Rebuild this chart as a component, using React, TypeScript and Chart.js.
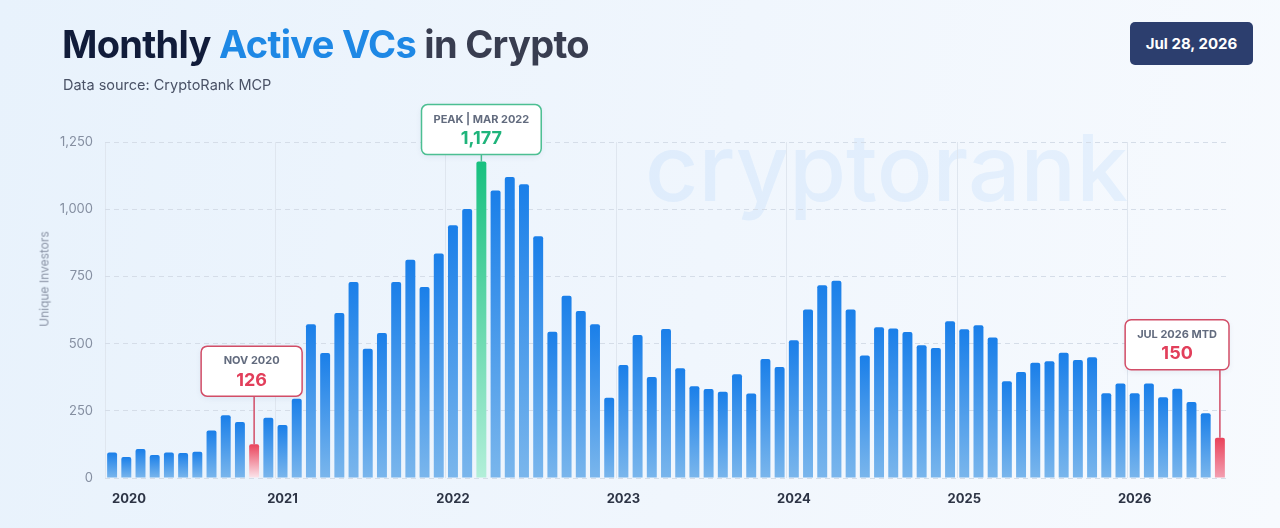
import React, { useEffect, useRef } from "react";
import { Chart, registerables } from "chart.js";

Chart.register(...registerables);

// ---------- DATA ----------
const MONTHS = ["Jan", "Feb", "Mar", "Apr", "May", "Jun", "Jul", "Aug", "Sep", "Oct", "Nov", "Dec"];
const YEARS = ["2020", "2021", "2022", "2023", "2024", "2025", "2026"];

const values2020 = [95, 78, 108, 86, 95, 93, 98, 177, 233, 208, 126, 224];
const values2021 = [197, 295, 572, 465, 614, 729, 481, 539, 729, 812, 711, 835];
const values2022 = [940, 1001, 1177, 1070, 1120, 1093, 899, 544, 678, 621, 572, 299];
const values2023 = [420, 532, 376, 554, 408, 341, 331, 321, 386, 314, 443, 413];
const values2024 = [512, 627, 717, 734, 627, 456, 561, 556, 543, 494, 484, 583];
const values2025 = [553, 568, 523, 360, 394, 429, 434, 466, 439, 449, 315, 352];
const values2026 = [315, 352, 300, 332, 283, 241, 150];

const SERIES_BY_YEAR = [values2020, values2021, values2022, values2023, values2024, values2025, values2026];
const CATEGORIES = SERIES_BY_YEAR.flatMap((arr, yi) => arr.map((_, mi) => `${MONTHS[mi]} ${YEARS[yi]}`));
const VALUES = SERIES_BY_YEAR.flat();

const Y_MAX = 1250;
const Y_STEP = 250;

// highlighted bars
const HIGHLIGHT_INDEX = [10, 26, 78];
const HIGHLIGHT_LABELS = ["NOV 2020", "PEAK | MAR 2022", "JUL 2026 MTD"];
const HIGHLIGHT_KIND = ["low", "peak", "low"];

// ---------- STYLE ----------
const FONT = "Inter, 'Noto Sans', sans-serif";
const KIND_STYLE: Record<string, { border: string; value: string; top: string }> = {
  low: { border: "#d24d67", value: "#e23f5b", top: "#e9425a" },
  peak: { border: "#4cbf92", value: "#1fb47b", top: "#17c07f" },
};
const HL_BAR_BOTTOM = ["#fbe6ec", "#b2efd9", "#f3a0b2"];
const HL_GAP = [48, 7, 68];
const HL_DX = [-2.5, 0, 0];

const watermarkPlugin = {
  id: "watermark",
  beforeDraw(chart: any) {
    const c = chart.ctx;
    c.save();
    const text = "cryptorank";
    let size = 84;
    c.font = `500 ${size}px ${FONT}`;
    const w = c.measureText(text).width;
    size = size * (483 / w);
    c.font = `500 ${size}px ${FONT}`;
    c.fillStyle = "rgba(70,160,240,0.09)";
    c.textBaseline = "alphabetic";
    c.textAlign = "left";
    c.fillText(text, 645, 201);
    c.restore();
  },
};

const annotationPlugin = {
  id: "highlightBoxes",
  afterDatasetsDraw(chart: any) {
    const c = chart.ctx;
    const area = chart.chartArea;
    const xs = chart.scales.x;
    const ys = chart.scales.y;
    HIGHLIGHT_INDEX.forEach((idx, k) => {
      const st = KIND_STYLE[HIGHLIGHT_KIND[k]];
      const x = xs.getPixelForValue(idx);
      const yTop = ys.getPixelForValue(VALUES[idx]);
      const label = HIGHLIGHT_LABELS[k];
      const valueText = VALUES[idx].toLocaleString("en-US");
      c.save();
      c.font = `700 11px ${FONT}`;
      const lw = c.measureText(label).width;
      const w = Math.max(101, lw + 24);
      const h = 50;
      let left = x - w / 2 + HL_DX[k];
      left = Math.min(left, area.right + 2 - w);
      const bottom = yTop - HL_GAP[k];
      const top = bottom - h;
      // connector
      c.strokeStyle = st.border;
      c.lineWidth = 1.5;
      c.beginPath();
      c.moveTo(x, bottom);
      c.lineTo(x, yTop);
      c.stroke();
      // box
      c.shadowColor = "rgba(30,60,110,0.08)";
      c.shadowBlur = 6;
      c.shadowOffsetY = 2;
      c.beginPath();
      c.roundRect(left, top, w, h, 6);
      c.fillStyle = "#ffffff";
      c.fill();
      c.shadowColor = "transparent";
      c.lineWidth = 1.5;
      c.strokeStyle = st.border;
      c.stroke();
      // texts
      c.textAlign = "center";
      c.textBaseline = "middle";
      c.fillStyle = "#626b7e";
      c.font = `700 11px ${FONT}`;
      c.fillText(label, left + w / 2, top + 15);
      c.fillStyle = st.value;
      c.font = `700 18px ${FONT}`;
      c.fillText(valueText, left + w / 2, top + 34);
      c.restore();
    });
  },
};

function barColor(ctx: any) {
  const chart = ctx.chart;
  const area = chart.chartArea;
  if (!area || ctx.dataIndex === undefined) return "#1e88e5";
  const i = ctx.dataIndex;
  const ys = chart.scales.y;
  const top = ys.getPixelForValue(VALUES[i]);
  const bot = ys.getPixelForValue(0);
  const g = chart.ctx.createLinearGradient(0, top, 0, bot);
  const h = HIGHLIGHT_INDEX.indexOf(i);
  if (h >= 0) {
    g.addColorStop(0, KIND_STYLE[HIGHLIGHT_KIND[h]].top);
    g.addColorStop(1, HL_BAR_BOTTOM[h]);
  } else {
    g.addColorStop(0, "#1a7fe9");
    g.addColorStop(1, "#7ab6ec");
  }
  return g;
}

export default function App() {
  const canvasRef = useRef<HTMLCanvasElement | null>(null);

  useEffect(() => {
    if (!canvasRef.current) return;
    const chart = new Chart(canvasRef.current, {
      type: "bar",
      data: {
        labels: CATEGORIES,
        datasets: [
          {
            data: VALUES,
            backgroundColor: barColor as any,
            borderRadius: 2,
            borderSkipped: "bottom",
            categoryPercentage: 1,
            barPercentage: 0.7,
          },
        ],
      },
      options: {
        responsive: true,
        maintainAspectRatio: false,
        animation: false,
        layout: { padding: { top: 142, right: 53, left: 0, bottom: 0 } },
        plugins: { legend: { display: false }, tooltip: { enabled: false } },
        scales: {
          x: {
            grid: {
              offset: true,
              drawTicks: false,
              lineWidth: 1,
              color: (ctx: any) => (ctx.index % 12 === 0 ? "#dfe6ef" : "rgba(0,0,0,0)"),
            },
            border: { display: false },
            ticks: {
              autoSkip: false,
              maxRotation: 0,
              minRotation: 0,
              align: "inner",
              padding: 13,
              color: "#2d3445",
              font: { family: FONT, size: 13, weight: "bold" },
              callback: (_v: any, i: number) => (i % 12 === 0 ? YEARS[i / 12] : ""),
            },
            afterFit: (s: any) => {
              s.height = 50;
            },
          },
          y: {
            min: 0,
            max: Y_MAX,
            ticks: {
              stepSize: Y_STEP,
              padding: 12,
              color: "#858fa1",
              font: { family: FONT, size: 13 },
              callback: (v: any) => Number(v).toLocaleString("en-US"),
            },
            grid: { color: "#d5dde8", drawTicks: false, lineWidth: 1 },
            border: { display: false, dash: [5, 4] },
            afterFit: (s: any) => {
              s.width = 105;
            },
          },
        },
      },
      plugins: [watermarkPlugin, annotationPlugin],
    });
    return () => chart.destroy();
  }, []);

  return (
    <div
      style={{
        position: "fixed",
        left: 0,
        top: 0,
        width: 1280,
        height: 528,
        overflow: "hidden",
        background: "linear-gradient(100deg, #e8f2fc 0%, #f0f6fd 55%, #f7fafe 100%)",
        fontFamily: FONT,
      }}
    >
      <div style={{ position: "absolute", left: 0, top: 0, width: 1280, height: 528 }}>
        <canvas ref={canvasRef} />
      </div>
      <div
        style={{
          position: "absolute",
          left: 62,
          top: 25,
          fontSize: 38,
          lineHeight: "38px",
          fontWeight: 700,
          letterSpacing: -0.7,
          whiteSpace: "nowrap",
        }}
      >
        <span style={{ color: "#111c3a" }}>Monthly </span>
        <span style={{ color: "#1e88e5" }}>Active VCs</span>
        <span style={{ color: "#383d50" }}> in Crypto</span>
      </div>
      <div
        style={{
          position: "absolute",
          left: 63,
          top: 76,
          fontSize: 14.5,
          lineHeight: "18px",
          color: "#4a5266",
          whiteSpace: "nowrap",
        }}
      >
        Data source: CryptoRank MCP
      </div>
      <div
        style={{
          position: "absolute",
          left: 1130,
          top: 22,
          width: 123,
          height: 43,
          borderRadius: 5,
          background: "#2c3e6e",
          color: "#ffffff",
          fontSize: 15,
          fontWeight: 700,
          display: "flex",
          alignItems: "center",
          justifyContent: "center",
          whiteSpace: "nowrap",
        }}
      >
        Jul 28, 2026
      </div>
      <div
        style={{
          position: "absolute",
          left: 44,
          top: 279,
          transform: "translate(-50%, -50%) rotate(-90deg)",
          fontSize: 12,
          color: "#8a93a5",
          whiteSpace: "nowrap",
        }}
      >
        Unique Investors
      </div>
    </div>
  );
}
